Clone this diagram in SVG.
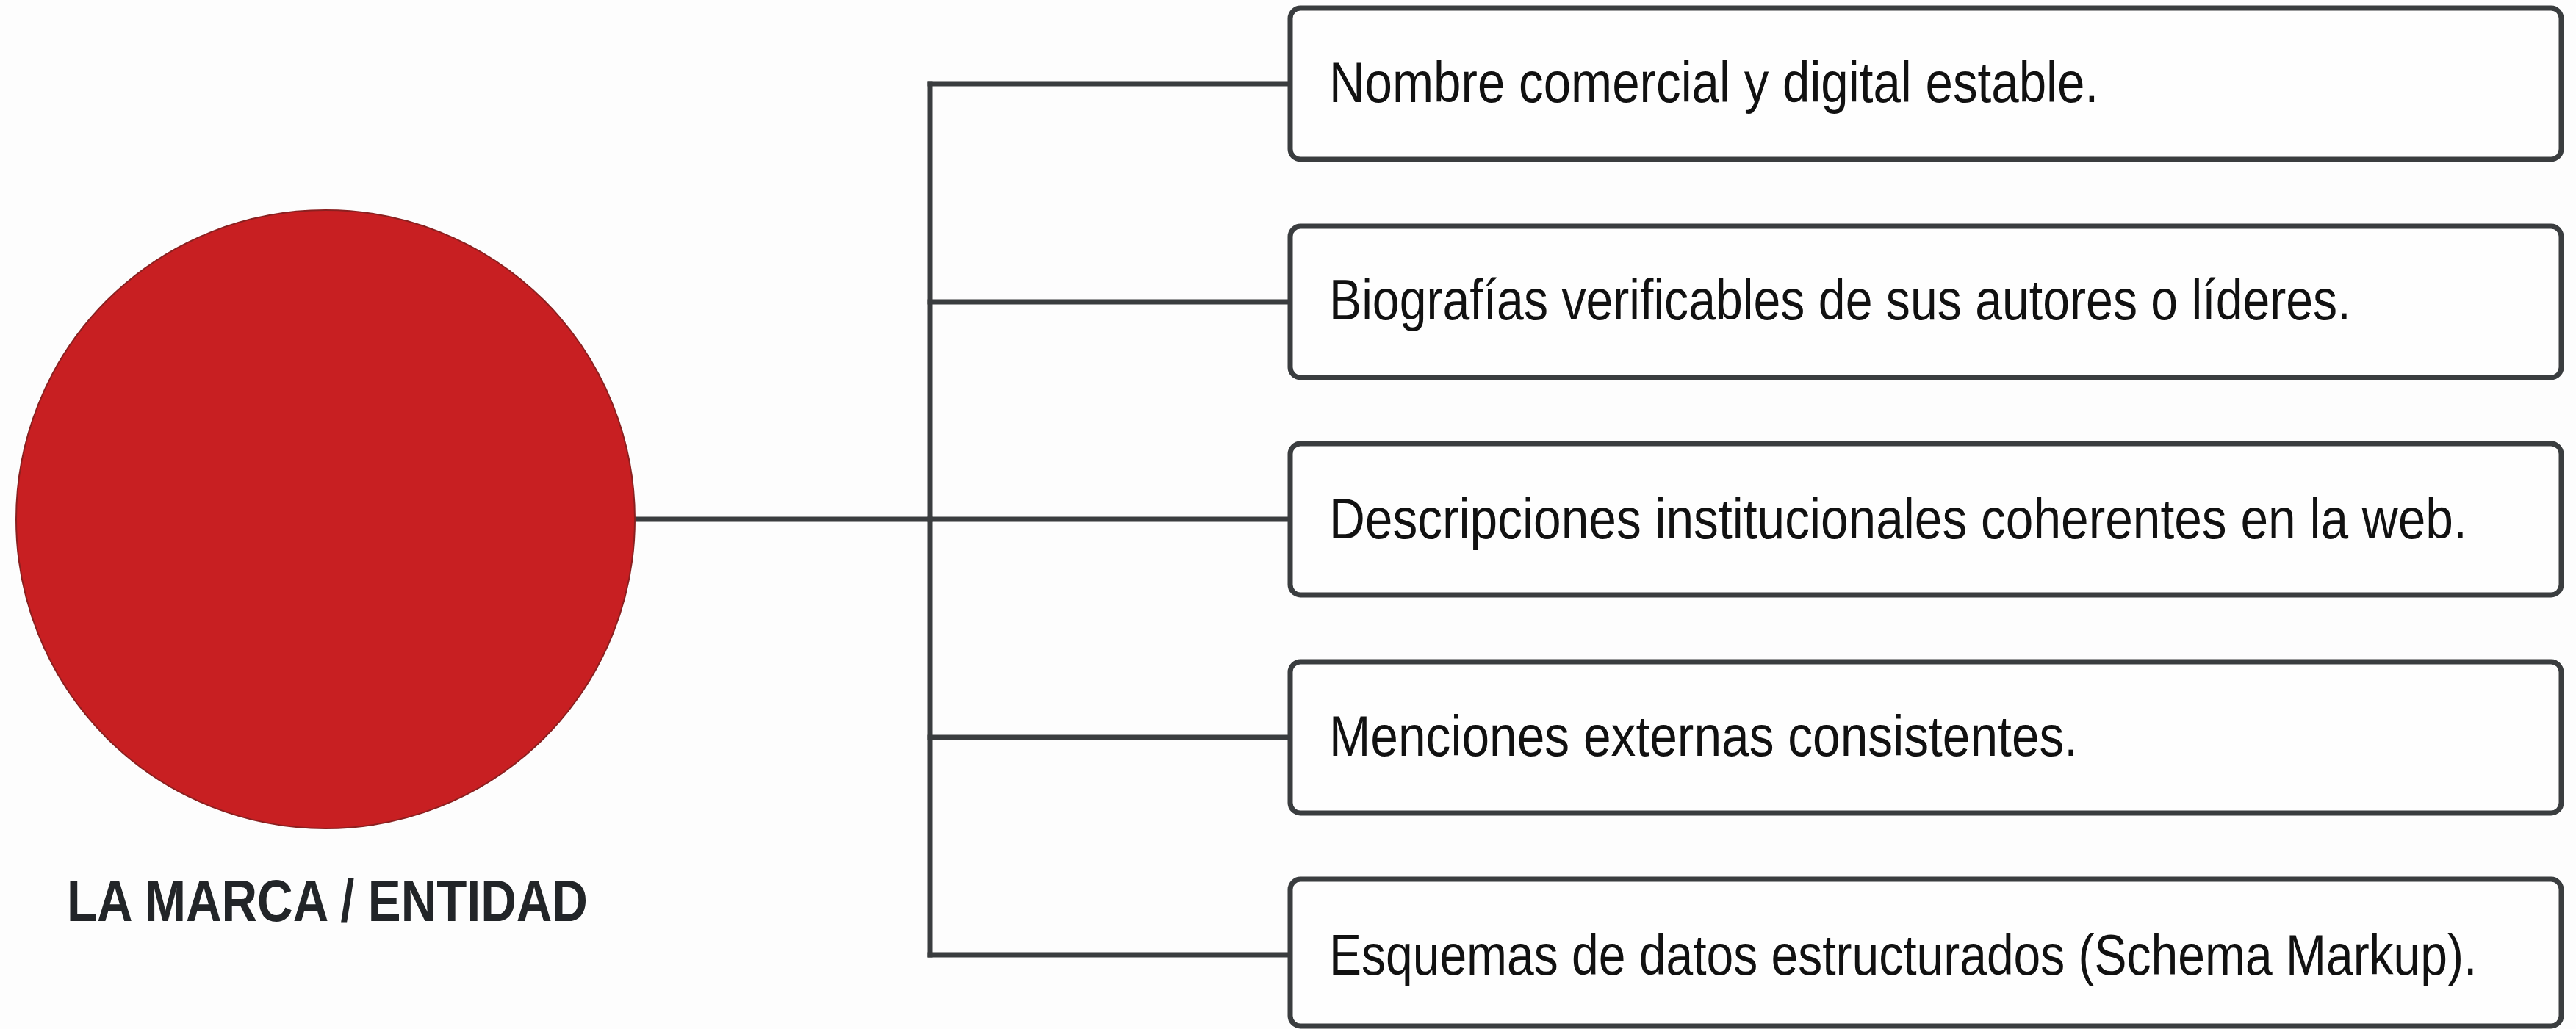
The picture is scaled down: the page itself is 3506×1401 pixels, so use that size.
<svg xmlns="http://www.w3.org/2000/svg" width="3506" height="1401" viewBox="0 0 3506 1401">
<style>
.bg{fill:#fdfdfd}
.conn{fill:none;stroke:#3a3d3f;stroke-width:7;stroke-linecap:square;stroke-linejoin:miter}
.box{fill:#fefefe;stroke:#3a3d3f;stroke-width:7}
.t{font-family:"Liberation Sans",Arial,sans-serif;font-size:78px;fill:#111111}
.lbl{font-family:"Liberation Sans",Arial,sans-serif;font-size:79px;font-weight:bold;fill:#222528}
</style>
<rect class="bg" x="0" y="0" width="3506" height="1401"/>
<g id="connectors">
<path class="conn" d="M864 707 H1266"/>
<path class="conn" d="M1266 114 V1300"/>
<path class="conn" d="M1266 114 H1756"/>
<path class="conn" d="M1266 411 H1756"/>
<path class="conn" d="M1266 707 H1756"/>
<path class="conn" d="M1266 1004 H1756"/>
<path class="conn" d="M1266 1300 H1756"/>
</g>
<g id="entity">
<circle cx="443" cy="707" r="421" fill="#c81f22" stroke="#8a2020" stroke-width="2"/>
<text class="lbl" transform="translate(91 1254) scale(0.85 1)" x="0" y="0" textLength="834" lengthAdjust="spacingAndGlyphs">LA MARCA / ENTIDAD</text>
</g>
<g id="item1">
<rect class="box" x="1756" y="11" width="1730" height="206" rx="14"/>
<text class="t" transform="translate(1809 139) scale(0.85 1)" x="0" y="0" textLength="1232" lengthAdjust="spacingAndGlyphs">Nombre comercial y digital estable.</text>
</g>
<g id="item2">
<rect class="box" x="1756" y="308" width="1730" height="206" rx="14"/>
<text class="t" transform="translate(1809 435) scale(0.85 1)" x="0" y="0" textLength="1636" lengthAdjust="spacingAndGlyphs">Biografías verificables de sus autores o líderes.</text>
</g>
<g id="item3">
<rect class="box" x="1756" y="604" width="1730" height="206" rx="14"/>
<text class="t" transform="translate(1809 733) scale(0.85 1)" x="0" y="0" textLength="1822" lengthAdjust="spacingAndGlyphs">Descripciones institucionales coherentes en la web.</text>
</g>
<g id="item4">
<rect class="box" x="1756" y="901" width="1730" height="206" rx="14"/>
<text class="t" transform="translate(1809 1029) scale(0.85 1)" x="0" y="0" textLength="1199" lengthAdjust="spacingAndGlyphs">Menciones externas consistentes.</text>
</g>
<g id="item5">
<rect class="box" x="1756" y="1197" width="1730" height="200" rx="14"/>
<text class="t" transform="translate(1809 1327) scale(0.85 1)" x="0" y="0" textLength="1838" lengthAdjust="spacingAndGlyphs">Esquemas de datos estructurados (Schema Markup).</text>
</g>
</svg>
